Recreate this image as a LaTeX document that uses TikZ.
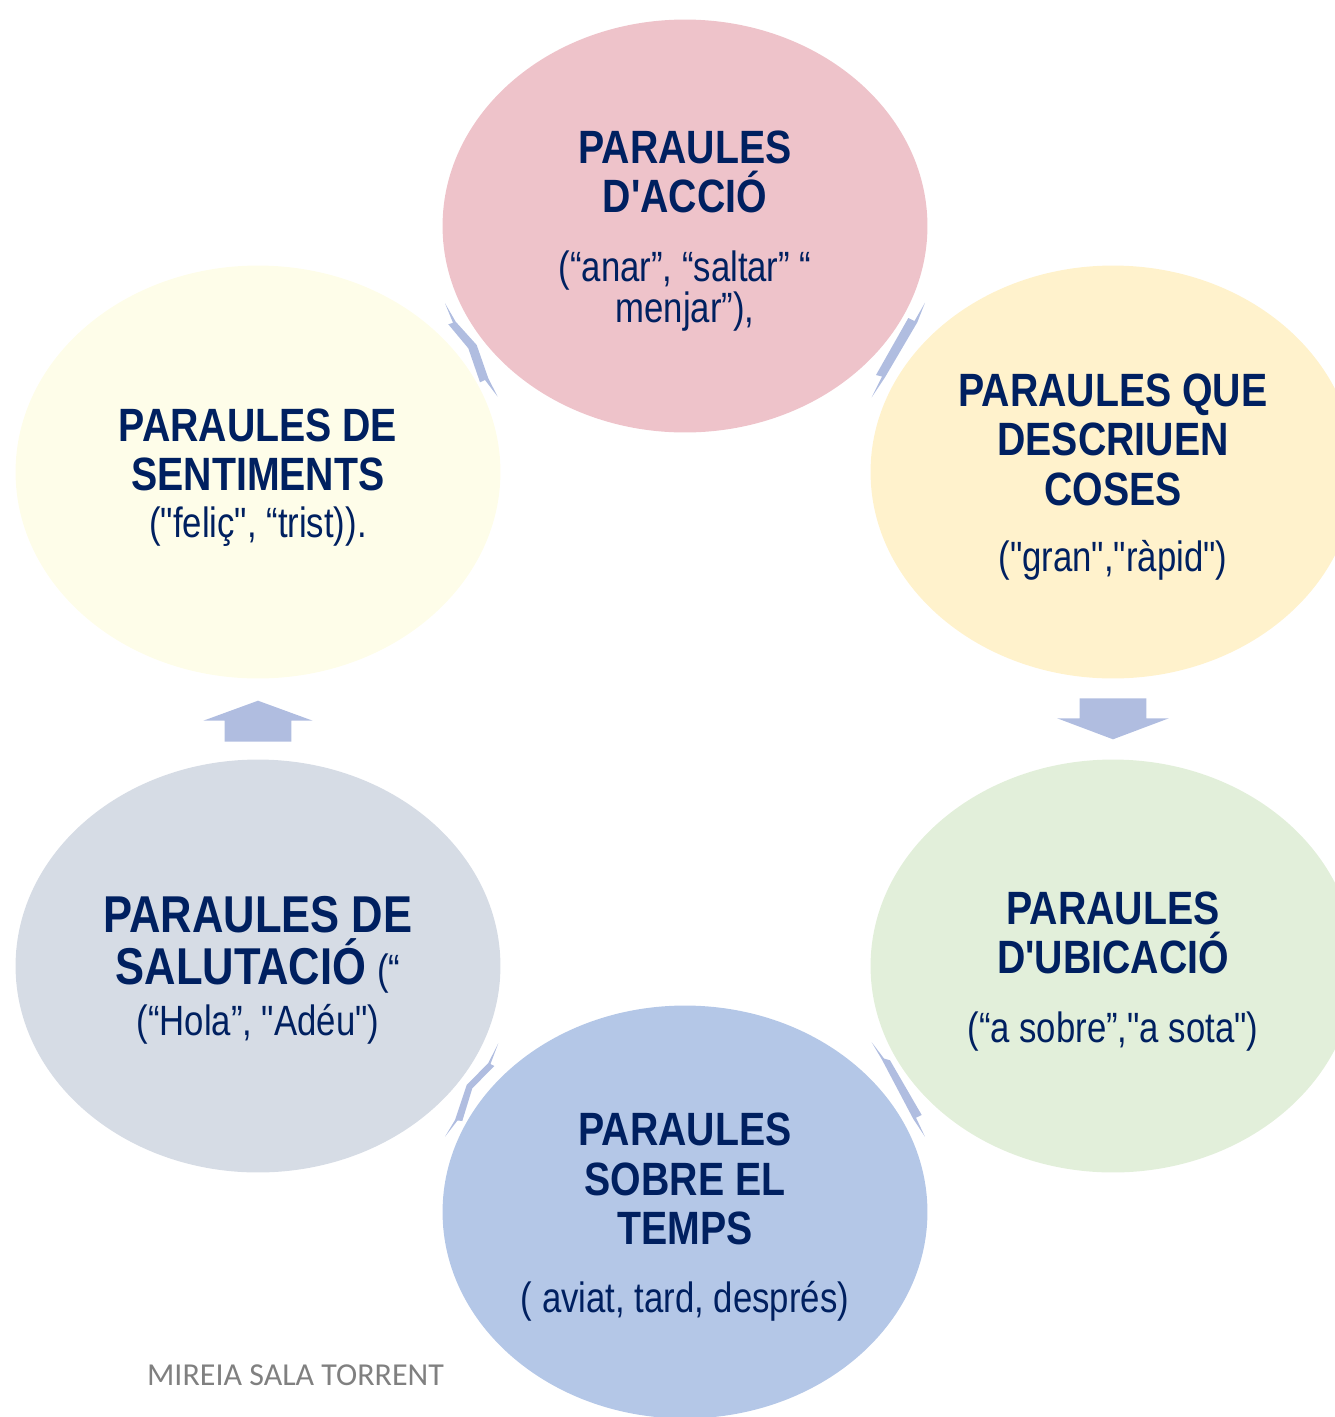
\documentclass[tikz,border=0pt]{standalone}
\usepackage{fontspec}
\usetikzlibrary{shapes.geometric,calc}
\newfontfamily\narrowfont{Liberation Sans}[FakeStretch=0.82,BoldFeatures={FakeStretch=0.84}]
\newfontfamily\capfont{Carlito}
\definecolor{navy}{RGB}{0,32,96}
\definecolor{pinkc}{RGB}{238,195,202}
\definecolor{creamc}{RGB}{255,242,204}
\definecolor{paleyel}{RGB}{254,253,233}
\definecolor{greenc}{RGB}{226,239,218}
\definecolor{grayblue}{RGB}{214,220,229}
\definecolor{bluec}{RGB}{180,199,231}
\definecolor{arrowc}{RGB}{176,189,224}
\colorlet{capgray}{black!50}
\newcommand{\ttl}{\fontsize{26.6}{28}\selectfont\bfseries}
\newcommand{\bigttl}{\fontsize{29.5}{28}\selectfont\bfseries}
\newcommand{\subt}{\fontsize{24.1}{28}\selectfont\mdseries}
\newcommand{\topstrut}{\rule{0pt}{24.7pt}}
\tikzset{
  bubble/.style={ellipse,minimum width=9.7cm,minimum height=8.26cm,inner sep=0pt,
    align=center,text=navy,font=\narrowfont\ttl},
  flow/.style={fill=arrowc}
}

\begin{document}
\begin{tikzpicture}[x=0.02cm,y=-0.02cm]
  \useasboundingbox (0,0) rectangle (1335,1417);
  \clip (0,0) rectangle (1335,1417);
  % the six groups of words
  \node[bubble,fill=pinkc] (accio) at (685,226)
    {\topstrut PARAULES\\D'ACCIÓ\\[11pt]{\subt (“anar”, “saltar” “}\\[-4.3pt]{\subt menjar”),}};
  \node[bubble,fill=creamc] (descr) at (1113,472)
    {\topstrut PARAULES QUE\\DESCRIUEN\\COSES\\[10pt]{\subt ("gran","ràpid")}};
  \node[bubble,fill=greenc] (ubica) at (1113,966)
    {\topstrut PARAULES\\D'UBICACIÓ\\[11pt]{\subt (“a sobre”,"a sota")}};
  \node[bubble,fill=bluec] (temps) at (685,1212)
    {\topstrut PARAULES\\SOBRE EL\\TEMPS\\[11pt]{\subt ( aviat, tard, després)}};
  \node[bubble,fill=grayblue] (salut) at (258,966)
    {{\bigttl\rule{0pt}{25.6pt}PARAULES DE}\\[1.5pt]{\bigttl SALUTACIÓ} {\subt (“}\\[1.5pt]{\subt (“Hola”, "Adéu")}};
  \node[bubble,fill=paleyel] (senti) at (258,472)
    {\topstrut PARAULES DE\\SENTIMENTS\\[-1.2pt]{\subt ("feliç", “trist)).}};

  % arrows halfway between the bubbles
  \coordinate (m1) at ($(accio)!0.5!(descr)$);
  \coordinate (m2) at ($(descr)!0.5!(ubica)$);
  \coordinate (m3) at ($(ubica)!0.5!(temps)$);
  \coordinate (m4) at ($(temps)!0.5!(salut)$);
  \coordinate (m5) at ($(salut)!0.5!(senti)$);
  \coordinate (m6) at ($(senti)!0.5!(accio)$);
  \begin{scope}[shift={(m1)}]
    \fill[flow] (26,-46.3) -- (18.3,-26.7) -- (-14,28.3) -- (-27.3,48.3) -- (-17,27.5)
      -- (-23,26) -- (9.3,-31) -- (15.5,-28) -- cycle;
  \end{scope}
  \begin{scope}[shift={(m2)}]
    \fill[flow] (-33.3,-20.7) -- (33.3,-20.7) -- (33.3,-0.7) -- (55.8,-0.7) -- (0,20.3)
      -- (-55.8,-0.7) -- (-33.3,-0.7) -- cycle;
  \end{scope}
  \begin{scope}[shift={(m3)}]
    \fill[flow] (-27.3,-46.7) -- (-15,-30.5) -- (-9,-28.7) -- (22.7,26) -- (17,28.7)
      -- (26,47.7) -- (14.3,30) -- (-17,-29.3) -- cycle;
  \end{scope}
  \begin{scope}[shift={(m4)}]
    \fill[flow] (26.8,-45.7) -- (19,-25) -- (22.8,-23) -- (0.8,-0.7) -- (-9.2,32)
      -- (-14,31.5) -- (-26.5,47.7) -- (-16.5,31) -- (-4.8,-4) -- (16.8,-26) -- cycle;
  \end{scope}
  \begin{scope}[shift={(m5)}]
    \fill[flow] (-33.3,22.7) -- (33.3,22.7) -- (33.3,1.7) -- (54.7,1.7) -- (0,-18.3)
      -- (-54.7,1.7) -- (-33.3,1.7) -- cycle;
  \end{scope}
  \begin{scope}[shift={(m6)}]
    \fill[flow] (-26.5,-45.7) -- (-15.8,-27.3) -- (5.2,-4) -- (16.8,29.3) -- (26.2,47.7)
      -- (13.5,31) -- (8.5,33.3) -- (-3.2,-0.7) -- (-23.2,-24.7) -- (-18.5,-26.2) -- cycle;
  \end{scope}

  \node[font=\capfont\fontsize{18.2}{20}\selectfont,text=capgray] (autora) at (295.5,1375)
    {MIREIA SALA TORRENT};
\end{tikzpicture}
\end{document}
